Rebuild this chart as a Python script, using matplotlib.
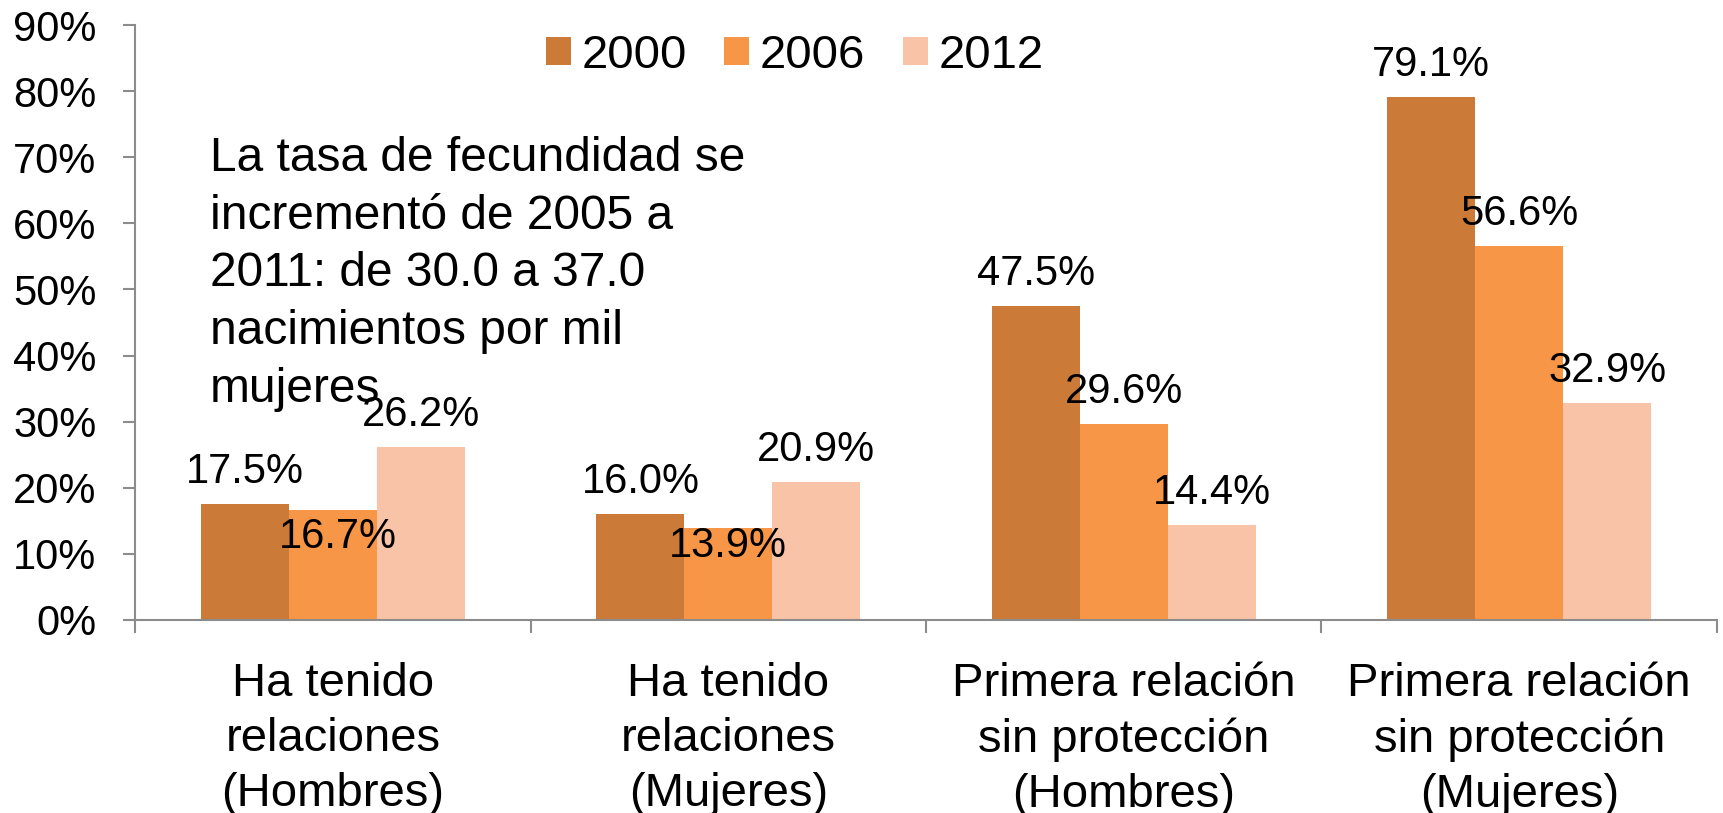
# %% Libraries
import matplotlib
matplotlib.use('Agg')
import matplotlib.pyplot as plt
import numpy as np

plt.rcParams['font.family'] = ['Liberation Sans', 'DejaVu Sans']

# %% Data
categories = ['Ha tenido\nrelaciones\n(Hombres)',
              'Ha tenido\nrelaciones\n(Mujeres)',
              'Primera relación\nsin protección\n(Hombres)',
              'Primera relación\nsin protección\n(Mujeres)']
years = ['2000', '2006', '2012']
v2000 = [0.175, 0.160, 0.475, 0.791]
v2006 = [0.167, 0.139, 0.296, 0.566]
v2012 = [0.262, 0.209, 0.144, 0.329]
yticks = [0, 0.1, 0.2, 0.3, 0.4, 0.5, 0.6, 0.7, 0.8, 0.9]
note = ('La tasa de fecundidad se\nincrementó de 2005 a\n'
        '2011: de 30.0 a 37.0\nnacimientos por mil\nmujeres')

# %% Style
colors = ['#CC7A38', '#F79646', '#F9C3A8']
axis_gray = '#8C8C8C'
# label offsets in points (dx, dy) from bar top, per series / category
label_offsets = [
    [(0, 15), (0, 15), (0, 15), (0, 15)],
    [(4, -28), (0, -21), (0, 15), (0, 15)],
    [(0, 15), (0, 15), (0, 15), (0, 15)],
]

# %% Plot
fig = plt.figure(figsize=(17.23, 8.13), dpi=100)
ax = fig.add_axes([0.0784, 0.2374, 0.9965 - 0.0784, 0.9692 - 0.2374])

x = np.arange(len(categories))
w = 1 / 4.5
series = [v2000, v2006, v2012]
for i, vals in enumerate(series):
    xs = x + (i - 1) * w
    ax.bar(xs, vals, width=w, color=colors[i], label=years[i], zorder=2)
    for j, v in enumerate(vals):
        dx, dy = label_offsets[i][j]
        ax.annotate(f'{v * 100:.1f}%', xy=(xs[j], v), xytext=(dx, dy),
                    textcoords='offset points', ha='center', va='baseline',
                    fontsize=30, zorder=3)

ax.set_xlim(-0.5, 3.5)
ax.set_ylim(0, 0.9)

ax.set_yticks(yticks)
ax.set_yticklabels([f'{int(round(t * 100))}%' for t in yticks])
ax.tick_params(axis='y', length=9, width=1.5, color=axis_gray, pad=19,
               labelsize=30)

ax.set_xticks(np.arange(-0.5, 4, 1))
ax.set_xticklabels([])
ax.set_xticks(x, minor=True)
ax.set_xticklabels(categories, minor=True, fontsize=34, linespacing=1.33)
ax.tick_params(axis='x', which='major', length=9.5, width=1.5, color=axis_gray)
ax.tick_params(axis='x', which='minor', length=0, pad=30)

for s in ['top', 'right']:
    ax.spines[s].set_visible(False)
for s in ['left', 'bottom']:
    ax.spines[s].set_color(axis_gray)
    ax.spines[s].set_linewidth(1.5)

ax.text(0.0474, 0.813, note, transform=ax.transAxes, ha='left', va='top',
        fontsize=34.5, linespacing=1.36)

ax.legend(loc='center', bbox_to_anchor=(0.417, 0.948), ncol=3, frameon=False,
          fontsize=34, handlelength=0.53, handleheight=0.54, handletextpad=0.22,
          columnspacing=0.8, borderpad=0)

fig.savefig('out.png', dpi=100)
